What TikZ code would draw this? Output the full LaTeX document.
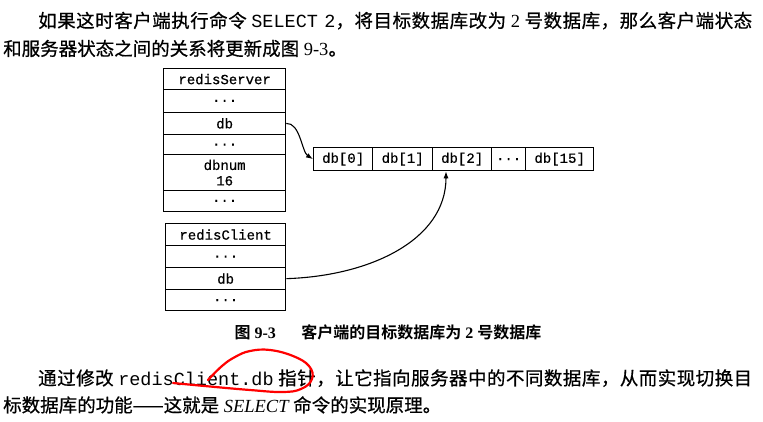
\documentclass[tikz,border=0pt]{standalone}
\usepackage{fontspec}
\setmainfont{Liberation Serif}
\setmonofont{Liberation Mono}
\newfontfamily\cjk{Noto Sans CJK SC}[FakeBold=0.6]
\newfontfamily\cjkb{Noto Sans CJK SC Bold}
\newfontfamily\dmono{Liberation Mono}[FakeBold=0.5]
\usetikzlibrary{arrows.meta}
% stretchable glue between CJK characters, so that full lines justify evenly
\newcount\cjkcc
\cjkcc="4E00
\loop
  \XeTeXcharclass\cjkcc=1
  \advance\cjkcc by 1
\ifnum\cjkcc<"A000 \repeat
\XeTeXcharclass"FF0C=3
\XeTeXcharclass"3002=3
\XeTeXinterchartokenstate=1
\newcommand{\cjkglue}{\hskip 0pt plus 1pt\relax}
\XeTeXinterchartoks 1 1 = {\cjkglue}
\XeTeXinterchartoks 1 3 = {\cjkglue}
\XeTeXinterchartoks 3 1 = {\cjkglue}
\newcommand{\gapsp}{\hspace{0.25em}}
\tikzset{
  cell/.style={draw, line width=1.3pt, inner sep=0pt, anchor=north west, align=center,
    font=\fontsize{14}{15.5}\selectfont\dmono},
  conn/.style={line width=1.1pt, -{Latex[length=7pt,width=5pt]}},
  body/.style={inner sep=0pt, font=\fontsize{18.5}{21}\selectfont},
  fullline/.style={body, anchor=base west},
  redmark/.style={draw=red, line width=2.2pt, line cap=round}
}
\begin{document}
\begin{tikzpicture}[x=1pt,y=-1pt]
\useasboundingbox[fill=white] (0,0) rectangle (763,421);
% top text
\node[fullline] (t1) at (38,27.5) {\hbox to 714pt{\cjk 如果这时客户端执行命令\gapsp\hbox{\ttfamily SELECT\hspace{0.35em}2}，将目标数据库改为\gapsp{\rmfamily 2}\gapsp 号数据库，那么客户端状态}};
\node[body, anchor=base west] (t2) at (3,55.5) {\cjk 和服务器状态之间的关系将更新成图\gapsp{\rmfamily 9-3}。};
% redisServer
\node[cell, minimum width=122pt, minimum height=21pt] (srv) at (163,68) {redisServer};
\node[cell, minimum width=122pt, minimum height=22.5pt] (s1) at (163,89) {...};
\node[cell, minimum width=122pt, minimum height=22.5pt] (sdb) at (163,111.5) {db};
\node[cell, minimum width=122pt, minimum height=20pt] (s3) at (163,134) {...};
\node[cell, minimum width=122pt, minimum height=36pt] (snum) at (163,154) {dbnum\\16};
\node[cell, minimum width=122pt, minimum height=20.5pt] (s5) at (163,190) {...};
% db array
\node[cell, minimum width=59pt, minimum height=23pt] (db0) at (313,147) {db[0]};
\node[cell, minimum width=60pt, minimum height=23pt] (db1) at (372,147) {db[1]};
\node[cell, minimum width=59pt, minimum height=23pt] (db2) at (432,147) {db[2]};
\node[cell, minimum width=34pt, minimum height=23pt] (dbd) at (491,147) {...};
\node[cell, minimum width=68pt, minimum height=23pt] (db15) at (525,147) {db[15]};
% redisClient
\node[cell, minimum width=120pt, minimum height=22pt] (cli) at (165,223) {redisClient};
\node[cell, minimum width=120pt, minimum height=22pt] (c1) at (165,245) {...};
\node[cell, minimum width=120pt, minimum height=22pt] (cdb) at (165,267) {db};
\node[cell, minimum width=120pt, minimum height=21pt] (c3) at (165,289) {...};
% connectors
\draw[conn] (sdb.east) .. controls (300,122.5) and (302,152) .. (db0.west);
\draw[conn] (cdb.east) .. controls (370,276) and (446,240) .. ([xshift=14pt]db2.south west);
% caption
\node[inner sep=0pt, anchor=base, font=\fontsize{16}{19}\selectfont] (cap) at (388,338) {\cjkb 图\gapsp{\rmfamily\bfseries 9-3}\hspace{1.6em}客户端的目标数据库为\gapsp{\rmfamily\bfseries 2}\gapsp 号数据库};
% bottom text
\node[fullline] (b1) at (38,385) {\hbox to 714pt{\cjk 通过修改\gapsp\hbox{\ttfamily redisClient.db}\gapsp 指针，让它指向服务器中的不同数据库，从而实现切换目}};
\node[body, anchor=base west] (b2) at (3,412) {\cjk 标数据库的功能——这就是\gapsp{\rmfamily\itshape SELECT}\gapsp 命令的实现原理。};
% red pen mark
\draw[redmark] plot[smooth, tension=0.7] coordinates {(173,383) (210,386.5) (250,390) (282,392) (301,389) (312,379) (309,366) (293,356) (270,350) (250,351) (235,357) (222,366) (208,380)};
\end{tikzpicture}
\end{document}
